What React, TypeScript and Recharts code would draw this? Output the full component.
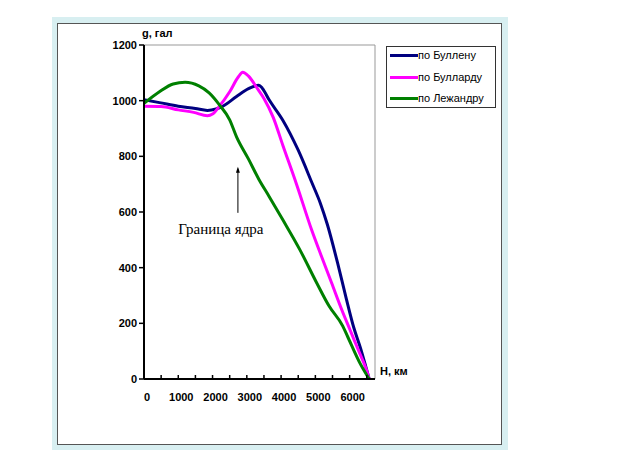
import { Label, Legend, Line, LineChart, ReferenceLine, XAxis, YAxis } from 'recharts'

// Глубина H (км) и ускорение g (гал) для каждой модели.
const bullenH = [0, 450, 1000, 1500, 1850, 2100, 2300, 2700, 3050, 3350, 3450, 3650, 4050, 4500, 4900, 5150, 5350, 5650, 5900, 6120, 6320, 6470, 6570]
const bullenG = [1003, 993, 980, 972, 965, 970, 980, 1015, 1043, 1055, 1045, 1003, 930, 822, 705, 630, 555, 416, 290, 185, 110, 45, 0]

const bullardH = [0, 500, 1000, 1450, 1850, 2000, 2200, 2500, 2750, 2880, 3050, 3300, 3500, 3770, 4050, 4450, 4890, 5180, 5475, 5770, 6010, 6250, 6490, 6570]
const bullardG = [980, 979, 967, 958, 946, 952, 980, 1032, 1085, 1102, 1088, 1045, 1008, 940, 840, 700, 536, 440, 345, 249, 177, 105, 33, 0]

const legendreH = [0, 450, 850, 1200, 1600, 1900, 2200, 2500, 2700, 3050, 3350, 3650, 4050, 4550, 5040, 5400, 5800, 5950, 6300, 6570]
const legendreG = [990, 1032, 1060, 1066, 1053, 1028, 985, 931, 870, 790, 718, 656, 572, 464, 345, 262, 190, 150, 57, 0]

const X_TICKS = [0, 500, 1000, 1500, 2000, 2500, 3000, 3500, 4000, 4500, 5000, 5500, 6000, 6500]
const Y_TICKS = [0, 200, 400, 600, 800, 1000, 1200]
const X_MAX = 6740

const zip = (h: number[], g: number[]) => h.map((v, i) => ({ h: v, g: g[i] }))

const SERIES = [
  { name: 'по Буллену', color: '#000080', data: zip(bullenH, bullenG) },
  { name: 'по Булларду', color: '#ff00ff', data: zip(bullardH, bullardG) },
  { name: 'по Лежандру', color: '#008000', data: zip(legendreH, legendreG) },
]
const SERIES_ORDER = SERIES.map((s) => s.name)

const SANS = '"Liberation Sans", Arial, sans-serif'

function XTick(props: any) {
  const { x, y, payload } = props
  const v = payload.value as number
  return (
    <g>
      <line x1={x} x2={x} y1={y - 4} y2={y} stroke="#000" strokeWidth={1.5} />
      {v % 1000 === 0 && (
        <text x={x + 3} y={y + 22} textAnchor="middle" fontFamily={SANS} fontSize={11} fontWeight="bold" fill="#000">
          {v}
        </text>
      )}
    </g>
  )
}

function CoreArrow(props: any) {
  const { x1, y1, y2 } = props
  const top = Math.min(y1, y2)
  const bottom = Math.max(y1, y2)
  return (
    <g>
      <line x1={x1} x2={x1} y1={top + 2} y2={bottom} stroke="#000" strokeWidth={1} />
      <path d={`M${x1 - 2},${top + 6} L${x1},${top} L${x1 + 2},${top + 6} Z`} fill="#000" />
      <text x={x1 - 17} y={bottom + 21} textAnchor="middle" fontFamily='"Liberation Serif", "Times New Roman", serif' fontSize={15} fill="#000">
        Граница ядра
      </text>
    </g>
  )
}

function LegendBox({ payload }: any) {
  // Порядок как в исходной легенде, а не по алфавиту.
  const items = [...(payload ?? [])].sort(
    (a: any, b: any) => SERIES_ORDER.indexOf(a.value) - SERIES_ORDER.indexOf(b.value),
  )
  return (
    <div style={{ border: '1px solid #333', boxSizing: 'border-box', width: 110, height: 62, background: '#fff' }}>
      <div style={{ marginTop: -2 }}>
        {items.map((p: any) => (
          <div key={p.value} style={{ display: 'flex', alignItems: 'center', height: 21.5 }}>
            <span style={{ display: 'inline-block', width: 28, height: 3, marginLeft: 3, background: p.color }} />
            <span style={{ fontFamily: SANS, fontSize: 11, color: '#000', lineHeight: 1 }}>{p.value}</span>
          </div>
        ))}
      </div>
    </div>
  )
}

export default function App() {
  return (
    <div style={{ position: 'absolute', left: 0, top: 0, width: 623, height: 467, background: '#fff' }}>
      <div style={{ position: 'absolute', left: 52, top: 17, width: 456, height: 433, background: '#d8eff1' }} />
      <div
        style={{
          position: 'absolute',
          left: 57,
          top: 23,
          width: 445,
          height: 422,
          background: '#fff',
          border: '1px solid #555',
          boxSizing: 'border-box',
        }}
      />
      <div style={{ position: 'absolute', left: 0, top: 0 }}>
        <LineChart width={623} height={467} margin={{ top: 45, right: 248, bottom: 58, left: 84 }}>
          <XAxis
            type="number"
            dataKey="h"
            domain={[0, X_MAX]}
            ticks={X_TICKS}
            allowDataOverflow
            height={30}
            axisLine={{ stroke: '#000', strokeWidth: 2 }}
            tickLine={false}
            tickSize={0}
            tickMargin={0}
            tick={<XTick />}
            interval={0}
          >
            <Label
              content={({ viewBox }: any) => (
                <text x={viewBox.x + viewBox.width + 5} y={viewBox.y - 4} fontFamily={SANS} fontSize={11} fontWeight="bold" fill="#000">
                  H, км
                </text>
              )}
            />
          </XAxis>
          <YAxis
            type="number"
            domain={[0, 1200]}
            ticks={Y_TICKS}
            width={60}
            interval={0}
            axisLine={{ stroke: '#000', strokeWidth: 2 }}
            tickLine={{ stroke: '#000', strokeWidth: 1.5 }}
            tickSize={5}
            tickMargin={2}
            tick={{ fontFamily: SANS, fontSize: 11, fontWeight: 'bold', fill: '#000' }}
          >
            <Label
              content={({ viewBox }: any) => (
                <text x={viewBox.x + viewBox.width - 2} y={viewBox.y - 8} fontFamily={SANS} fontSize={11} fontWeight="bold" fill="#000">
                  g, гал
                </text>
              )}
            />
          </YAxis>
          <ReferenceLine y={1200} stroke="#999" strokeWidth={1} />
          <ReferenceLine x={X_MAX} stroke="#999" strokeWidth={1} />
          {SERIES.map((s) => (
            <Line
              key={s.name}
              data={s.data}
              dataKey="g"
              name={s.name}
              type="monotone"
              stroke={s.color}
              strokeWidth={3}
              dot={false}
              activeDot={false}
              isAnimationActive={false}
            />
          ))}
          <ReferenceLine
            segment={[
              { x: 2740, y: 597 },
              { x: 2740, y: 763 },
            ]}
            shape={<CoreArrow />}
          />
          <Legend
            layout="horizontal"
            verticalAlign="middle"
            align="center"
            content={<LegendBox />}
            wrapperStyle={{ position: 'absolute', left: 386, top: 46, width: 110, height: 62 }}
          />
        </LineChart>
      </div>
    </div>
  )
}
